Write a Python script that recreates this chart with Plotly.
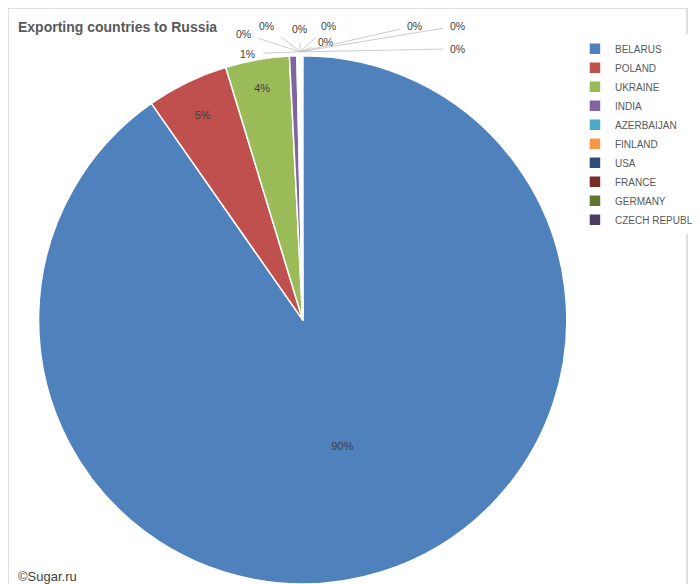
import plotly.graph_objects as go

countries = ["BELARUS", "POLAND", "UKRAINE", "INDIA", "AZERBAIJAN", "FINLAND",
             "USA", "FRANCE", "GERMANY", "CZECH REPUBLIC"]
shares = [90.2, 5.0, 3.9, 0.45, 0.08, 0.07, 0.06, 0.05, 0.05, 0.04]
colors = ["#4F81BD", "#C0504D", "#9BBB59", "#8064A2", "#4BACC6", "#F79646",
          "#2C4D75", "#772C2A", "#5F7530", "#4D3B62"]

# big slices labelled inside, small ones get callouts like the Excel original
positions = ["inside"] * 3 + ["none"] * 7
# pixel offsets of callout labels from the top of the pie (India first)
callout_dx = [-52, -56, -33, 0, 29, 26, 115, 158, 158]
callout_dy = [2, -18, -26, -23, -26, -10, -26, -26, -3]
small_labels = ["1%"] + ["0%"] * 8

fig = go.Figure(go.Pie(
    labels=countries, values=shares, sort=False, direction="clockwise", rotation=0,
    marker=dict(colors=colors, line=dict(color="white", width=1.5)),
    texttemplate="%{percent:.0%}", textposition=positions,
    insidetextorientation="horizontal",
    textfont=dict(size=11, color="#404040"),
    domain=dict(x=[0.045, 0.823], y=[0.0, 0.932]),
))

annotations = [
    dict(text="<b>Exporting countries to Russia</b>", x=0.012, y=0.985,
         xref="paper", yref="paper", xanchor="left", yanchor="top",
         showarrow=False, font=dict(size=14, color="#595959")),
    dict(text="©Sugar.ru", x=0.012, y=0.01, xref="paper", yref="paper",
         xanchor="left", yanchor="bottom", showarrow=False,
         font=dict(size=13, color="#404040")),
]
for lab, dx, dy in zip(small_labels, callout_dx, callout_dy):
    annotations.append(dict(
        text=lab, x=0.43, y=0.925, xref="paper", yref="paper",
        ax=dx, ay=dy, showarrow=True, arrowhead=0, arrowwidth=0.8,
        arrowcolor="#BFBFBF", standoff=0, startstandoff=6,
        font=dict(size=10.5, color="#404040")))

fig.update_layout(
    width=700, height=584,
    margin=dict(l=0, r=0, t=0, b=0),
    paper_bgcolor="white",
    font=dict(family="Liberation Sans, Arial", color="#404040"),
    legend=dict(x=0.835, y=0.955, xanchor="left", yanchor="top",
                font=dict(size=10, color="#595959"), itemwidth=30,
                tracegroupgap=0),
    annotations=annotations,
    shapes=[dict(type="rect", xref="paper", yref="paper", x0=0, y0=0, x1=1, y1=1,
                 line=dict(color="#BFBFBF", width=1))],
)

fig.write_html("out.html")
